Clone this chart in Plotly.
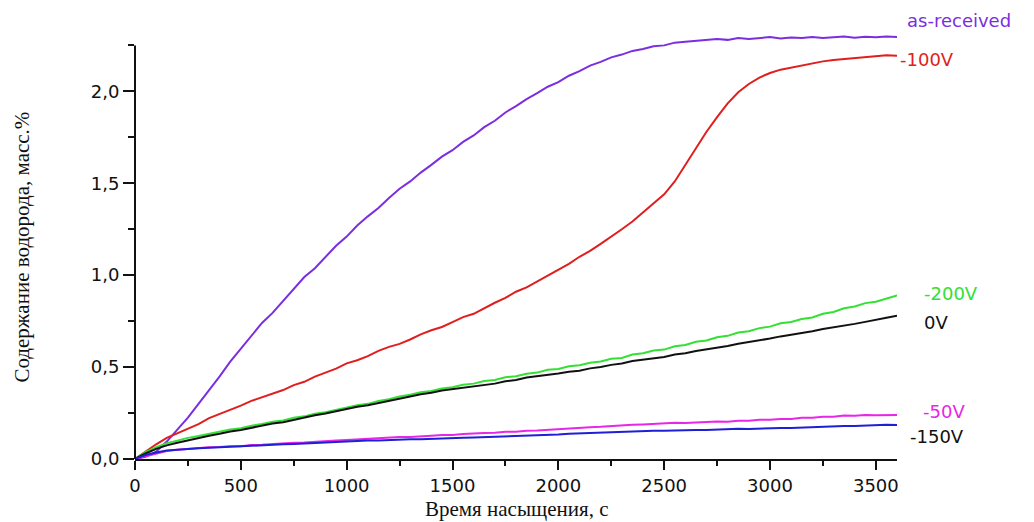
import plotly.graph_objects as go

# Time, s (step 50 s)
time_s = list(range(0, 3601, 50))

as_received = [0, 0.012, 0.04, 0.095, 0.16, 0.225, 0.30, 0.372, 0.45, 0.53, 0.60, 0.668, 0.74, 0.795,
               0.86, 0.93, 0.99, 1.038, 1.10, 1.16, 1.21, 1.27, 1.32, 1.365, 1.42, 1.47, 1.51, 1.558,
               1.60, 1.645, 1.68, 1.725, 1.76, 1.805, 1.84, 1.885, 1.92, 1.958, 1.99, 2.025, 2.05,
               2.085, 2.11, 2.14, 2.16, 2.185, 2.20, 2.22, 2.23, 2.245, 2.25, 2.265, 2.27, 2.275, 2.28,
               2.285, 2.28, 2.29, 2.285, 2.29, 2.295, 2.288, 2.293, 2.29, 2.296, 2.29, 2.295, 2.298,
               2.292, 2.297, 2.294, 2.298, 2.295]

v_minus100 = [0, 0.04, 0.08, 0.115, 0.14, 0.168, 0.19, 0.222, 0.245, 0.265, 0.29, 0.316, 0.335, 0.358,
              0.375, 0.402, 0.42, 0.448, 0.47, 0.492, 0.52, 0.537, 0.56, 0.588, 0.61, 0.626, 0.65,
              0.678, 0.70, 0.718, 0.745, 0.772, 0.79, 0.822, 0.85, 0.876, 0.91, 0.934, 0.965, 1.00,
              1.03, 1.062, 1.10, 1.132, 1.17, 1.208, 1.25, 1.292, 1.34, 1.388, 1.44, 1.51, 1.60, 1.69,
              1.78, 1.86, 1.935, 1.995, 2.04, 2.075, 2.10, 2.118, 2.13, 2.142, 2.15, 2.163, 2.17,
              2.176, 2.18, 2.188, 2.19, 2.196, 2.193]

v_minus200 = [0, 0.038, 0.065, 0.086, 0.10, 0.115, 0.125, 0.138, 0.147, 0.16, 0.167, 0.181, 0.19,
              0.203, 0.21, 0.224, 0.232, 0.246, 0.255, 0.268, 0.278, 0.292, 0.30, 0.316, 0.325, 0.34,
              0.35, 0.363, 0.37, 0.383, 0.39, 0.404, 0.41, 0.424, 0.43, 0.445, 0.45, 0.464, 0.47,
              0.485, 0.49, 0.504, 0.51, 0.524, 0.53, 0.545, 0.55, 0.568, 0.575, 0.59, 0.595, 0.613,
              0.62, 0.638, 0.645, 0.662, 0.67, 0.688, 0.695, 0.712, 0.72, 0.738, 0.745, 0.762, 0.77,
              0.79, 0.80, 0.82, 0.83, 0.848, 0.855, 0.874, 0.89]

v_zero = [0, 0.03, 0.055, 0.074, 0.088, 0.102, 0.112, 0.127, 0.137, 0.15, 0.158, 0.171, 0.18, 0.193,
          0.20, 0.214, 0.224, 0.238, 0.247, 0.26, 0.27, 0.284, 0.292, 0.305, 0.315, 0.33, 0.34, 0.352,
          0.36, 0.373, 0.38, 0.39, 0.395, 0.405, 0.41, 0.423, 0.43, 0.443, 0.45, 0.46, 0.465, 0.475,
          0.48, 0.493, 0.50, 0.512, 0.52, 0.533, 0.54, 0.55, 0.555, 0.568, 0.575, 0.587, 0.595, 0.607,
          0.615, 0.627, 0.635, 0.647, 0.655, 0.667, 0.675, 0.687, 0.695, 0.707, 0.715, 0.727, 0.735,
          0.746, 0.755, 0.768, 0.78]

v_minus50 = [0, 0.015, 0.03, 0.043, 0.05, 0.056, 0.058, 0.064, 0.065, 0.07, 0.07, 0.076, 0.077, 0.082,
             0.083, 0.089, 0.09, 0.095, 0.096, 0.101, 0.103, 0.107, 0.108, 0.113, 0.115, 0.119, 0.12,
             0.125, 0.126, 0.13, 0.13, 0.136, 0.137, 0.141, 0.143, 0.148, 0.148, 0.154, 0.155, 0.159,
             0.16, 0.166, 0.167, 0.173, 0.175, 0.18, 0.183, 0.186, 0.188, 0.192, 0.192, 0.197, 0.196,
             0.2, 0.20, 0.204, 0.203, 0.208, 0.208, 0.213, 0.213, 0.218, 0.218, 0.224, 0.225, 0.23,
             0.23, 0.236, 0.235, 0.239, 0.238, 0.241, 0.24]

v_minus150 = [0, 0.022, 0.035, 0.046, 0.05, 0.056, 0.058, 0.061, 0.065, 0.066, 0.07, 0.072, 0.076,
              0.077, 0.08, 0.082, 0.085, 0.087, 0.09, 0.092, 0.095, 0.098, 0.10, 0.1, 0.103, 0.104,
              0.107, 0.107, 0.11, 0.111, 0.112, 0.116, 0.117, 0.119, 0.12, 0.12, 0.122, 0.126, 0.128,
              0.131, 0.133, 0.138, 0.14, 0.142, 0.145, 0.146, 0.148, 0.149, 0.15, 0.153, 0.153, 0.156,
              0.155, 0.158, 0.158, 0.161, 0.16, 0.164, 0.163, 0.166, 0.165, 0.169, 0.168, 0.171, 0.172,
              0.176, 0.176, 0.179, 0.18, 0.183, 0.183, 0.186, 0.185]

series_names = ["as-received", "-100V", "-200V", "0V", "-50V", "-150V"]
series_values = [as_received, v_minus100, v_minus200, v_zero, v_minus50, v_minus150]
line_colors = ["#7a2ee0", "#e01e1e", "#33e033", "#111111", "#e826e8", "#1f1fd6"]
label_colors = ["#7a2ee0", "#e01e1e", "#33e033", "#111111", "#e826e8", "#111111"]
# label anchor positions (paper fractions, placed right of the curves)
label_x = [1.0105, 1.0013, 1.033, 1.033, 1.032, 1.0145]
label_y = [1.015, 0.925, 0.384, 0.317, 0.109, 0.051]

x_title = "Время насыщения, с"
y_title = "Содержание водорода, масс.%"

fig = go.Figure()
for name, vals, col in zip(series_names, series_values, line_colors):
    fig.add_trace(go.Scatter(x=time_s, y=vals, mode="lines", name=name,
                             line=dict(color=col, width=2), showlegend=False))

for name, lx, ly, col in zip(series_names, label_x, label_y, label_colors):
    fig.add_annotation(x=lx, y=ly, xref="paper", yref="paper", text=name, showarrow=False,
                       xanchor="left", yanchor="middle",
                       font=dict(family="DejaVu Sans, Arial", size=18, color=col))

fig.add_annotation(x=0.5, y=-0.115, xref="paper", yref="paper", text=x_title, showarrow=False,
                   xanchor="center", yanchor="middle",
                   font=dict(family="Liberation Serif, Times New Roman, serif", size=21, color="#111"))
fig.add_annotation(x=-0.148, y=0.49, xref="paper", yref="paper", text=y_title, showarrow=False,
                   textangle=-90, xanchor="center", yanchor="middle",
                   font=dict(family="Liberation Serif, Times New Roman, serif", size=21, color="#111"))

# y-axis line ending at 2.25
fig.add_shape(type="line", xref="paper", yref="y", x0=0, x1=0, y0=0, y1=2.25,
              line=dict(color="#111", width=2))

fig.update_layout(
    width=1034, height=522,
    margin=dict(l=135, r=137, t=27, b=63),
    paper_bgcolor="white", plot_bgcolor="white",
    separators=", ",
)
fig.update_xaxes(range=[0, 3600], showgrid=False, zeroline=False, showline=True,
                 linecolor="#111", linewidth=2, ticks="outside", ticklen=9, tickwidth=2,
                 tickcolor="#111", tick0=0, dtick=500, tickformat="d",
                 tickfont=dict(family="DejaVu Sans, Arial", size=18, color="#111"),
                 minor=dict(ticks="outside", ticklen=5, tickwidth=2, tickcolor="#111",
                            tick0=0, dtick=250, showgrid=False))
fig.update_yaxes(range=[0, 2.35], showgrid=False, zeroline=False, showline=False,
                 ticks="outside", ticklen=11, tickwidth=2, tickcolor="#111",
                 tickvals=[0, 0.5, 1.0, 1.5, 2.0], tickformat=".1f",
                 tickfont=dict(family="DejaVu Sans, Arial", size=18, color="#111"),
                 minor=dict(ticks="outside", ticklen=6, tickwidth=2, tickcolor="#111",
                            tickvals=[0.25, 0.75, 1.25, 1.75, 2.25], showgrid=False))

fig.write_html("out.html")
